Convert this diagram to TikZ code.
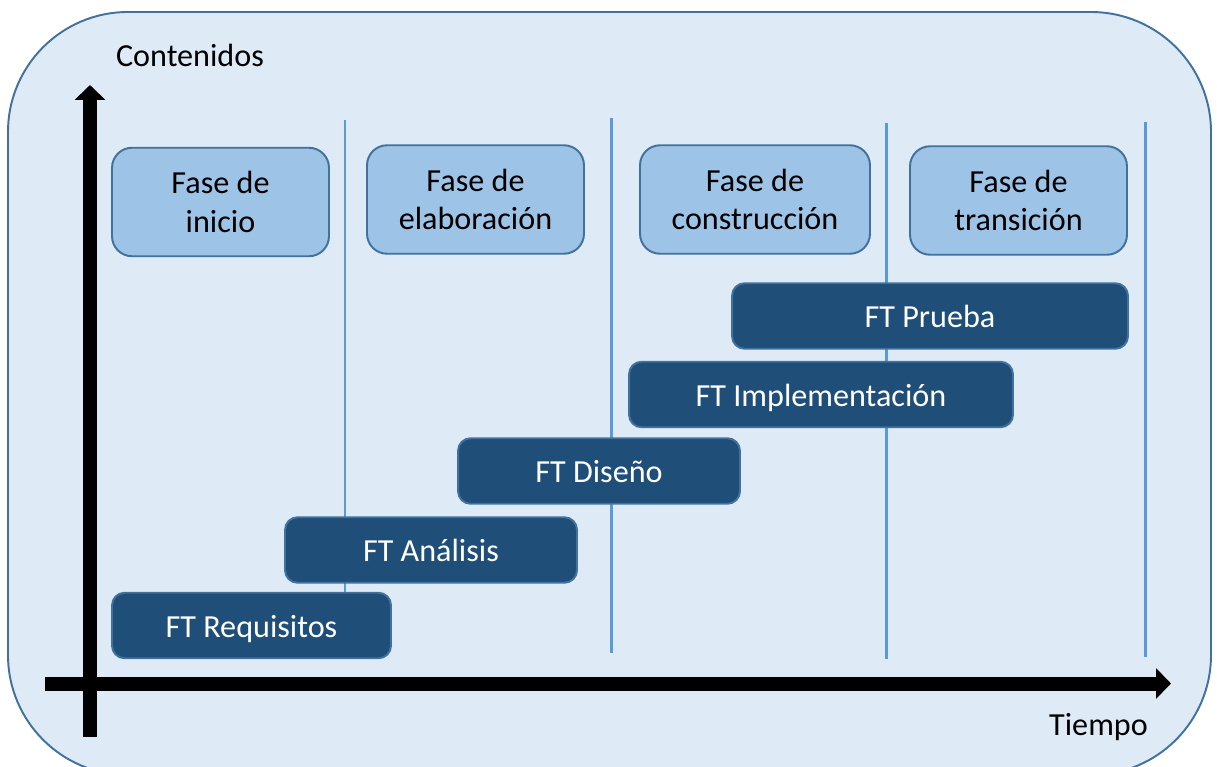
\documentclass[tikz,border=0pt]{standalone}
\usepackage{fontspec}
\setmainfont{Carlito}
\usepackage{tikz}
\usetikzlibrary{arrows.meta}

\definecolor{fondo}{HTML}{DEEBF7}
\definecolor{borde}{HTML}{41719C}
\definecolor{fase}{HTML}{9DC3E6}
\definecolor{flujo}{HTML}{1F4E79}
\definecolor{linea}{HTML}{5B9BD5}

\begin{document}
\begin{tikzpicture}[x=0.02cm,y=-0.02cm,
    fasebox/.style={draw=borde,line width=1.1pt,fill=fase,rounded corners=0.4cm,
        align=center,font=\fontsize{18.3}{22}\selectfont,
        minimum width=4.34cm,minimum height=2.17cm},
    ftbox/.style={draw=borde,line width=1.1pt,fill=flujo,rounded corners=0.25cm,
        text=white,font=\fontsize{18.3}{22}\selectfont,minimum height=1.31cm,
        text height=18pt,text depth=4.5pt},
    sep/.style={linea,line width=1.7pt},
    eje/.style={line width=0.28cm,-{Triangle[length=0.3cm,width=0.6cm]}}]
            \useasboundingbox (0,0) rectangle (1217,767);
            \draw[borde,line width=1.1pt,fill=fondo,rounded corners=2.4cm]
                (8,12) rectangle (1211,775);

            % separadores de fases
            \coordinate (s1a) at (345,120);  \coordinate (s1b) at (345,600);
            \coordinate (s2a) at (611,118);  \coordinate (s2b) at (611,653);
            \coordinate (s3a) at (886,123);  \coordinate (s3b) at (886,659);
            \coordinate (s4a) at (1145,122); \coordinate (s4b) at (1145,657);
            \draw[sep] (s1a) -- (s1b);
            \draw[sep] (s2a) -- (s2b);
            \draw[sep] (s3a) -- (s3b);
            \draw[sep] (s4a) -- (s4b);

            \node[fasebox] (inicio) at (220.5,202) {Fase de\\inicio};
            \node[fasebox] (elab) at (475.5,199.5) {Fase de\\elaboración};
            \node[fasebox,minimum width=4.6cm] (constr) at (755,199.5) {Fase de\\construcción};
            \node[fasebox] (trans) at (1018.5,200.5) {Fase de\\transición};

            \node[ftbox,minimum width=7.92cm] (prueba) at (930,316) {FT Prueba};
            \node[ftbox,minimum width=7.68cm] (impl) at (821,394.5) {FT Implementación};
            \node[ftbox,minimum width=5.64cm] (diseno) at (599,471) {FT Diseño};
            \node[ftbox,minimum width=5.84cm] (analisis) at (431,550) {FT Análisis};
            \node[ftbox,minimum width=5.58cm] (req) at (251.5,625.5) {FT Requisitos};

            % ejes
            \coordinate (y0) at (90,737);
            \coordinate (y1) at (90,85);
            \coordinate (x0) at (45,683.5);
            \coordinate (x1) at (1171,683.5);
            \draw[eje] (y0) -- (y1);
            \draw[eje] (x0) -- (x1);

            \node[font=\fontsize{18.3}{22}\selectfont] (cont) at (190,55) {Contenidos};
            \node[font=\fontsize{18.3}{22}\selectfont] (tiempo) at (1098.5,727) {Tiempo};

        \end{tikzpicture}
\end{document}
